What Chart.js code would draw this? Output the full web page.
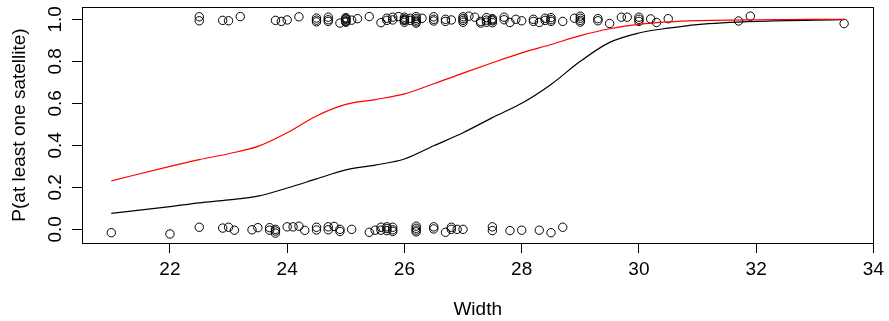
<!DOCTYPE html>
<html>
<head>
<meta charset="utf-8">
<script src="https://cdn.jsdelivr.net/npm/chart.js@4/dist/chart.umd.min.js"></script>
<style>
  html, body { margin: 0; padding: 0; background: #fff; }
  canvas { display: block; }
</style>
</head>
<body>
<canvas id="crabChart" width="889" height="321"></canvas>
<script>
// crabs with at least one satellite (y = 1, jittered)
const satWidth = [
  22.5, 22.5, 22.9, 23.0, 23.2, 23.8, 23.9, 24.0, 24.2,
  24.5, 24.5, 24.5, 24.7, 24.7, 24.7, 24.9,
  25.0, 25.0, 25.0, 25.0, 25.0, 25.0, 25.1, 25.2, 25.4, 25.6, 25.7, 25.7, 25.8, 25.8, 25.9,
  26.0, 26.0, 26.0, 26.0, 26.0, 26.1, 26.1, 26.2, 26.2, 26.2, 26.2, 26.2, 26.3,
  26.5, 26.5, 26.5, 26.7, 26.7, 26.8,
  27.0, 27.0, 27.0, 27.0, 27.1, 27.2, 27.3, 27.3, 27.4, 27.4, 27.4,
  27.5, 27.5, 27.5, 27.5, 27.7, 27.7, 27.8, 27.9, 28.0,
  28.2, 28.2, 28.3, 28.4, 28.4, 28.5, 28.5, 28.5, 28.7, 28.9,
  29.0, 29.0, 29.0, 29.0, 29.3, 29.3, 29.5, 29.7, 29.8,
  30.0, 30.0, 30.0, 30.2, 30.3, 30.5, 31.7, 31.9, 33.5
];
const satJitter = [
  1.012, 0.993, 0.995, 0.993, 1.013, 0.995, 0.990, 0.997, 1.012,
  1.006, 0.996, 0.988, 1.010, 0.998, 0.990, 0.982,
  1.008, 1.000, 0.993, 0.986, 1.003, 0.990, 0.996, 1.003, 1.013, 0.984, 0.995, 1.005, 1.010, 0.997, 1.013,
  1.010, 1.002, 0.994, 0.986, 0.998, 1.005, 0.995, 1.013, 1.004, 0.996, 0.988, 0.982, 1.005,
  1.012, 1.000, 0.992, 1.000, 0.990, 0.997,
  1.012, 1.003, 0.995, 0.986, 1.015, 1.010, 0.990, 0.982, 1.008, 0.996, 0.986,
  1.003, 0.993, 0.984, 0.998, 1.010, 0.998, 0.985, 1.000, 0.993,
  1.000, 0.990, 0.985, 1.005, 0.995, 1.008, 0.998, 0.990, 0.990, 1.005,
  1.015, 1.005, 0.995, 0.987, 1.003, 0.993, 0.980, 1.010, 1.010,
  1.010, 1.000, 0.990, 1.002, 0.985, 1.003, 0.992, 1.015, 0.980
];

// crabs with no satellite (y = 0, jittered)
const noSatWidth = [
  21.0, 22.0, 22.5, 22.9, 23.0, 23.1, 23.4, 23.5, 23.7, 23.7, 23.8, 23.8, 23.8,
  24.0, 24.1, 24.2, 24.3, 24.5, 24.5, 24.7, 24.7, 24.8, 24.9, 24.9,
  25.1, 25.4, 25.5, 25.6, 25.6, 25.7, 25.7, 25.7, 25.8, 25.8, 25.8,
  26.2, 26.2, 26.2, 26.2, 26.5, 26.5, 26.7, 26.8, 26.8, 26.9, 27.0,
  27.5, 27.5, 27.8, 28.0, 28.3, 28.5, 28.7
];
const noSatJitter = [
  -0.016, -0.022, 0.010, 0.006, 0.010, -0.004, -0.002, 0.008, 0.008, -0.004, -0.008, -0.018, 0.000,
  0.012, 0.012, 0.015, -0.005, 0.010, -0.003, 0.012, -0.002, 0.014, 0.000, -0.010,
  0.000, -0.014, -0.004, 0.010, -0.004, 0.012, 0.004, -0.006, 0.010, -0.002, -0.010,
  0.015, 0.005, -0.004, -0.012, 0.012, 0.002, -0.014, 0.010, 0.000, 0.000, 0.000,
  0.012, -0.006, -0.006, -0.004, -0.004, -0.016, 0.010
];

// fitted curves
const curveWidth = [21, 22, 22.5, 23, 23.5, 24, 24.5, 25, 25.5, 26, 26.5, 27, 27.5, 28, 28.5, 29, 29.5, 30, 30.5, 31, 32, 33.5];
const blackFit = [0.076, 0.108, 0.126, 0.140, 0.158, 0.197, 0.240, 0.283, 0.306, 0.335, 0.398, 0.460, 0.532, 0.600, 0.690, 0.800, 0.890, 0.935, 0.958, 0.975, 0.990, 0.998];
const redFit = [0.231, 0.300, 0.332, 0.360, 0.395, 0.460, 0.540, 0.595, 0.618, 0.645, 0.693, 0.744, 0.793, 0.840, 0.880, 0.922, 0.955, 0.976, 0.988, 0.994, 0.998, 1.000];

const xTicks = [22, 24, 26, 28, 30, 32, 34];
const yTicks = [0, 0.2, 0.4, 0.6, 0.8, 1.0];

const FONT = '"Liberation Sans", Arial, sans-serif';

const toPoints = (xs, ys) => xs.map((x, i) => ({ x: x, y: ys[i] }));

// R-style box and y tick labels written along the axis
const rFrame = {
  id: 'rFrame',
  afterDraw(chart) {
    const { ctx, chartArea: a, scales: { y } } = chart;
    ctx.save();
    ctx.strokeStyle = '#000';
    ctx.lineWidth = 1;
    ctx.strokeRect(Math.round(a.left) + 0.5, Math.round(a.top) + 0.5,
      Math.round(a.right - a.left), Math.round(a.bottom - a.top));
    ctx.fillStyle = '#000';
    ctx.font = '19px ' + FONT;
    ctx.textAlign = 'center';
    ctx.textBaseline = 'alphabetic';
    yTicks.forEach(v => {
      ctx.save();
      ctx.translate(60.5, y.getPixelForValue(v));
      ctx.rotate(-Math.PI / 2);
      ctx.fillText(v.toFixed(1), 0, 0);
      ctx.restore();
    });
    ctx.restore();
  }
};

const ctx = document.getElementById('crabChart').getContext('2d');
new Chart(ctx, {
  type: 'scatter',
  data: {
    datasets: [
      {
        label: 'Fit',
        data: toPoints(curveWidth, blackFit),
        showLine: true,
        borderColor: '#000',
        borderWidth: 1.2,
        pointRadius: 0,
        cubicInterpolationMode: 'monotone',
        order: 1
      },
      {
        label: 'Smooth',
        data: toPoints(curveWidth, redFit),
        showLine: true,
        borderColor: '#ff0000',
        borderWidth: 1.2,
        pointRadius: 0,
        cubicInterpolationMode: 'monotone',
        order: 0
      },
      {
        label: 'Satellite',
        data: toPoints(satWidth, satJitter),
        pointStyle: 'circle',
        pointRadius: 4.2,
        borderWidth: 1,
        borderColor: '#000',
        backgroundColor: 'rgba(0,0,0,0)',
        order: 2
      },
      {
        label: 'No satellite',
        data: toPoints(noSatWidth, noSatJitter),
        pointStyle: 'circle',
        pointRadius: 4.2,
        borderWidth: 1,
        borderColor: '#000',
        backgroundColor: 'rgba(0,0,0,0)',
        order: 2
      }
    ]
  },
  options: {
    responsive: false,
    animation: false,
    devicePixelRatio: 1,
    layout: { padding: { top: 7, right: 15, left: 0, bottom: 0 } },
    plugins: { legend: { display: false }, tooltip: { enabled: false } },
    scales: {
      x: {
        type: 'linear',
        min: 20.5,
        max: 34,
        afterBuildTicks: s => { s.ticks = xTicks.map(v => ({ value: v })); },
        afterFit: s => { s.height = 78; },
        grid: { drawOnChartArea: false, drawTicks: true, tickLength: 10, color: '#000', lineWidth: 1 },
        border: { display: true, color: '#000', width: 1 },
        ticks: {
          autoSkip: false,
          maxRotation: 0,
          padding: 5,
          color: '#000',
          font: { family: FONT, size: 19 }
        },
        title: {
          display: true,
          text: 'Width',
          color: '#000',
          font: { family: FONT, size: 19 },
          padding: { top: 0, bottom: 0 }
        }
      },
      y: {
        type: 'linear',
        min: -0.065,
        max: 1.0586,
        afterBuildTicks: s => { s.ticks = yTicks.map(v => ({ value: v })); },
        afterFit: s => { s.width = 82; },
        grid: { drawOnChartArea: false, drawTicks: true, tickLength: 10, color: '#000', lineWidth: 1 },
        border: { display: true, color: '#000', width: 1 },
        ticks: { display: false },
        title: {
          display: true,
          text: 'P(at least one satellite)',
          color: '#000',
          font: { family: FONT, size: 19 },
          padding: { top: 8, bottom: 0 }
        }
      }
    }
  },
  plugins: [rFrame]
});
</script>
</body>
</html>
